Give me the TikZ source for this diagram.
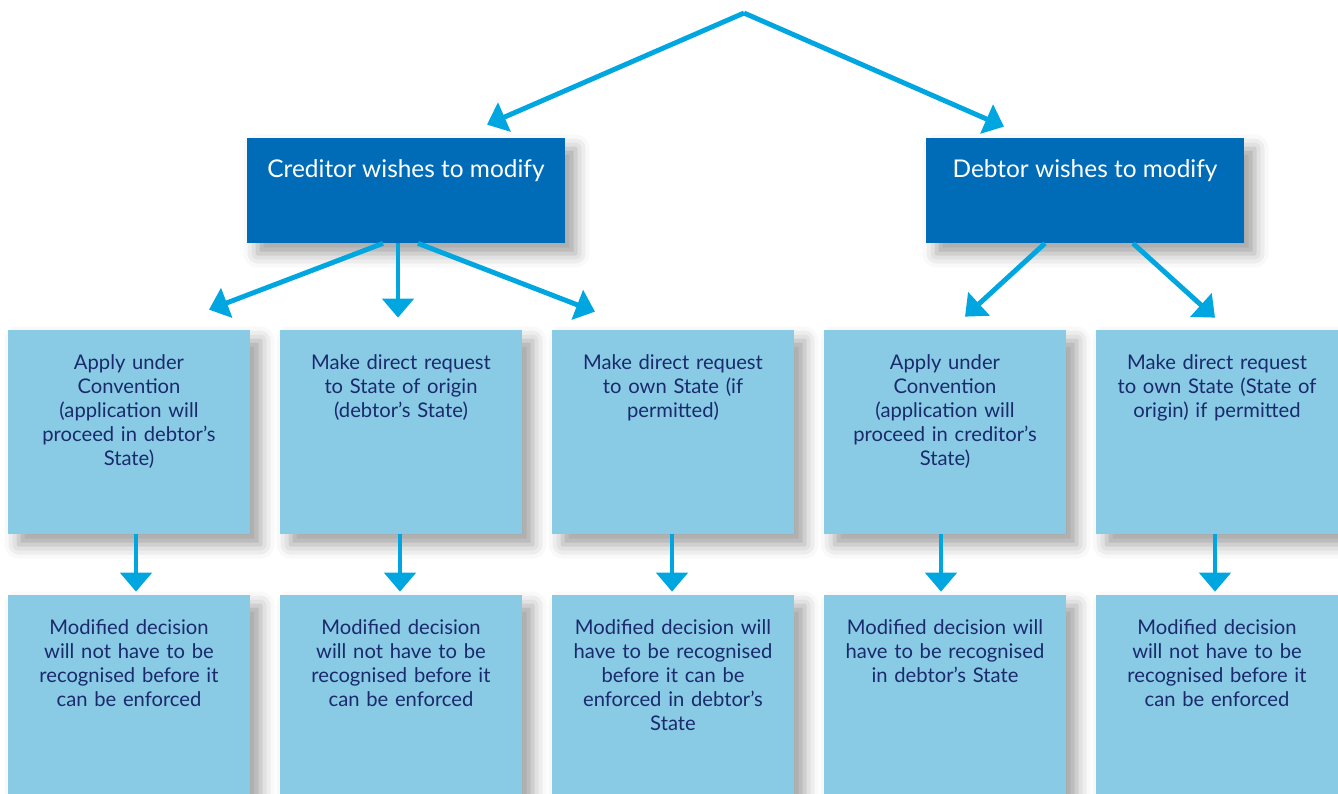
\documentclass[tikz,border=0pt]{standalone}
\usepackage{fontspec}
\setmainfont{Lato}
\usetikzlibrary{arrows.meta,shadows.blur,calc}
\definecolor{dkblue}{HTML}{006CB7}
\definecolor{ltblue}{HTML}{89CBE5}
\definecolor{arrowblue}{HTML}{00A6E0}
\definecolor{navy}{HTML}{1A2A6C}
\tikzset{
  sh/.style={blur shadow={shadow xshift=6pt, shadow yshift=-6pt, shadow blur radius=8pt, shadow opacity=38}},
  topbox/.style={fill=dkblue, draw=none, minimum width=6.36cm, minimum height=2.1cm, inner sep=0pt, sh},
  midbox/.style={fill=ltblue, draw=none, minimum width=4.84cm, minimum height=4.08cm, inner sep=0pt, sh},
  lowbox/.style={fill=ltblue, draw=none, minimum width=4.84cm, minimum height=3.98cm, inner sep=0pt, sh},
  toptxt/.style={anchor=north, inner sep=0pt, text=white, font=\fontsize{13.9}{16.5}\selectfont, align=center},
  boxtxt/.style={anchor=north, inner sep=0pt, text=navy, font=\fontsize{11.5}{13.6}\selectfont, align=center, text width=4.7cm},
  arr/.style={draw=arrowblue, line width=2.8pt, -{Triangle[width=0.62cm,length=0.38cm]}}
}
\begin{document}
\begin{tikzpicture}[x=0.02cm,y=-0.02cm]
\useasboundingbox (0,0) rectangle (1338,794);
% top boxes
\node[topbox] (cw) at (406,190.5) {};
\node[topbox] (dw) at (1085,190.5) {};
% middle row
\node[midbox] (a1) at (129,432) {};
\node[midbox] (a2) at (401,432) {};
\node[midbox] (a3) at (673,432) {};
\node[midbox] (a4) at (945,432) {};
\node[midbox] (a5) at (1217,432) {};
% bottom row
\node[lowbox] (b1) at (129,694.5) {};
\node[lowbox] (b2) at (401,694.5) {};
\node[lowbox] (b3) at (673,694.5) {};
\node[lowbox] (b4) at (945,694.5) {};
\node[lowbox] (b5) at (1217,694.5) {};
% texts
\node[toptxt] (cwt) at ($(cw.north)+(0,22)$) {Creditor wishes to modify};
\node[toptxt] (dwt) at ($(dw.north)+(0,22)$) {Debtor wishes to modify};
\node[boxtxt] (a1t) at ($(a1.north)+(0,25)$) {Apply under\\Convention\\(application will\\proceed in debtor’s\\State)};
\node[boxtxt] (a2t) at ($(a2.north)+(0,25)$) {Make direct request\\to State of origin\\(debtor’s State)};
\node[boxtxt] (a3t) at ($(a3.north)+(0,25)$) {Make direct request\\to own State (if\\permitted)};
\node[boxtxt] (a4t) at ($(a4.north)+(0,25)$) {Apply under\\Convention\\(application will\\proceed in creditor’s\\State)};
\node[boxtxt] (a5t) at ($(a5.north)+(0,25)$) {Make direct request\\to own State (State of\\origin) if permitted};
\node[boxtxt] (b1t) at ($(b1.north)+(0,25)$) {Modified decision\\will not have to be\\recognised before it\\can be enforced};
\node[boxtxt] (b2t) at ($(b2.north)+(0,25)$) {Modified decision\\will not have to be\\recognised before it\\can be enforced};
\node[boxtxt] (b3t) at ($(b3.north)+(0,25)$) {Modified decision will\\have to be recognised\\before it can be\\enforced in debtor’s\\State};
\node[boxtxt] (b4t) at ($(b4.north)+(0,25)$) {Modified decision will\\have to be recognised\\in debtor’s State};
\node[boxtxt] (b5t) at ($(b5.north)+(0,25)$) {Modified decision\\will not have to be\\recognised before it\\can be enforced};
% arrows
\coordinate (apex) at (744,13);
\draw[arr] (apex) -- ($(cw.north)+(81,-13)$);
\draw[arr] (apex) -- ($(dw.north)+(-81,-11)$);
\draw[arr] ($(cw.south)+(-23,0)$) -- ($(a1.north)+(80,-20)$);
\draw[arr] ($(cw.south)+(-8,0)$) -- ($(a2.north)+(-3,-12)$);
\draw[arr] ($(cw.south)+(12,0)$) -- ($(a3.north)+(-78,-18)$);
\draw[arr] ($(dw.south)+(-40,0)$) -- ($(a4.north)+(20,-13)$);
\draw[arr] ($(dw.south)+(48,0)$) -- ($(a5.north)+(-2,-12)$);
\draw[arr] ($(a1.south)+(7,0)$) -- ($(b1.north)+(7,-3)$);
\draw[arr] ($(a2.south)+(-1,0)$) -- ($(b2.north)+(-1,-3)$);
\draw[arr] ($(a3.south)+(-1,0)$) -- ($(b3.north)+(-1,-3)$);
\draw[arr] ($(a4.south)+(-4,0)$) -- ($(b4.north)+(-4,-3)$);
\draw[arr] ($(a5.south)+(-2,0)$) -- ($(b5.north)+(-2,-3)$);
\end{tikzpicture}
\end{document}
